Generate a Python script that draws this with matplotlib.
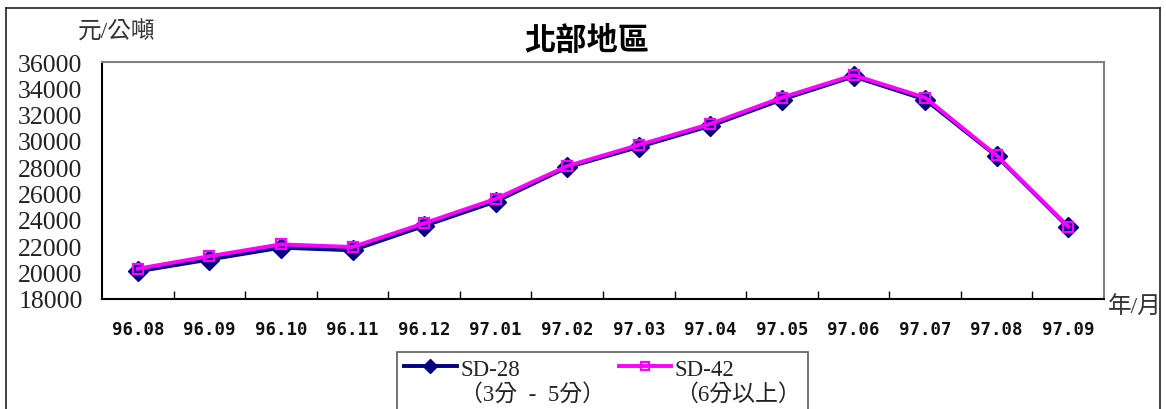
import matplotlib
matplotlib.use("Agg")
import matplotlib.pyplot as plt
from matplotlib.lines import Line2D
import numpy as np

months = ["96.08", "96.09", "96.10", "96.11", "96.12", "97.01", "97.02",
          "97.03", "97.04", "97.05", "97.06", "97.07", "97.08", "97.09"]
sd28 = [20100, 21000, 21900, 21700, 23550, 25400, 28000,
        29550, 31150, 33150, 34900, 33150, 28850, 23450]
sd42 = [20300, 21250, 22150, 21950, 23750, 25600, 28100,
        29700, 31300, 33300, 35000, 33300, 28900, 23500]
yticks = [18000, 20000, 22000, 24000, 26000, 28000, 30000, 32000, 34000, 36000]
label28 = "SD-28\n（3分  -  5分）"
label42 = "SD-42\n（6分以上）"

W, H = 1166, 410
fig = plt.figure(figsize=(W / 100, H / 100), dpi=100)
ax = fig.add_axes([102 / W, 1 - 300 / H, (1104 - 102) / W, (300 - 63) / H])

x = list(range(len(months)))
ax.plot(x, sd28, color="#000080", lw=2.8, marker="D", ms=10.5,
        markerfacecolor="#000080", markeredgecolor="#000080", label=label28, zorder=3)
ax.plot(x, sd42, color="#FF00FF", lw=2.8, marker="s", ms=6.5,
        markerfacecolor="none", markeredgecolor="#FF00FF", markeredgewidth=1.6,
        label=label42, zorder=4)

ax.set_xlim(-0.5, len(months) - 0.5)
ax.set_ylim(18000, 36000)
ax.set_yticks(yticks)
ax.set_yticklabels([str(v) for v in yticks], family="Liberation Serif",
                   fontsize=18.5, color="#222222")
ax.tick_params(axis="y", length=0, pad=14)

ax.set_xticks(x)
ax.set_xticklabels(months, family="DejaVu Sans Mono", fontweight="bold",
                   fontsize=12.5, color="#111111")
ax.tick_params(axis="x", which="major", length=0, pad=15)
ax.set_xticks([i + 0.5 for i in x[:-1]], minor=True)
ax.tick_params(axis="x", which="minor", direction="in", length=6, width=1, color="#000000")

for s in ["left", "bottom"]:
    ax.spines[s].set_color("#000000")
    ax.spines[s].set_linewidth(1.5)
for s in ["top", "right"]:
    ax.spines[s].set_color("#808080")
    ax.spines[s].set_linewidth(1.5)

cjk = ["Liberation Serif", "Noto Sans CJK TC", "DejaVu Sans"]
fig.text(587 / W, 1 - 41 / H, "北部地區", ha="center", va="center",
         family=["Noto Sans CJK TC"], fontweight="bold", fontsize=22.5, color="#000000")
fig.text(78 / W, 1 - 33 / H, "元/公噸", ha="left", va="center",
         family=cjk, fontsize=17, color="#333333")
fig.text(1108 / W, 1 - 308 / H, "年/月", ha="left", va="center",
         family=cjk, fontsize=17, color="#333333")

leg = fig.legend(loc="upper left", bbox_to_anchor=(397 / W, 1 - 353 / H),
                 ncol=2, frameon=True, fancybox=False, edgecolor="#333333",
                 prop={"family": cjk, "size": 16.5}, handlelength=2.3,
                 handletextpad=0.15, columnspacing=0.6, borderpad=0.3,
                 borderaxespad=0, labelcolor="#222222")
leg.get_frame().set_linewidth(1.2)
for t in leg.get_texts():
    t.set_linespacing(1.2)
    t.set_multialignment("left")
for ln, ms in zip(leg.get_lines(), [7.5, 6.0]):
    yd = np.asarray(ln.get_ydata(), dtype=float)
    ln.set_ydata(yd + 11.5)
    ln.set_markersize(ms)

# outer frame
fc = "#222222"
fig.add_artist(Line2D([6 / W, 1160 / W], [1 - 9 / H, 1 - 9 / H], color=fc, lw=1.2,
                      transform=fig.transFigure))
fig.add_artist(Line2D([6 / W, 6 / W], [1 - 9 / H, 0], color=fc, lw=1.2,
                      transform=fig.transFigure))
fig.add_artist(Line2D([1160 / W, 1160 / W], [1 - 9 / H, 0], color=fc, lw=1.2,
                      transform=fig.transFigure))

fig.savefig("out.png", dpi=100)
